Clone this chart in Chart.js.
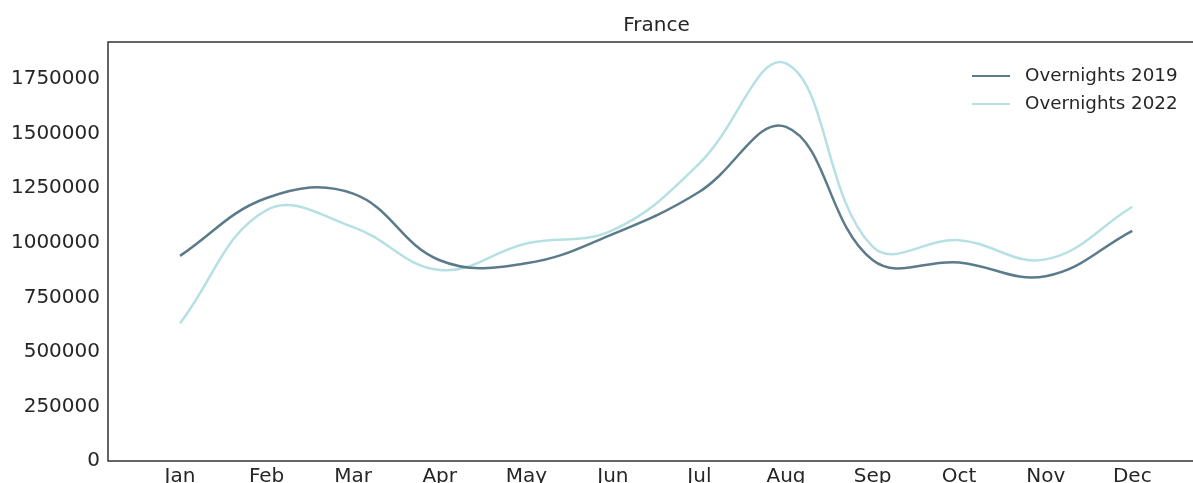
<!DOCTYPE html>
<html>
<head>
<meta charset="utf-8">
<script src="https://cdn.jsdelivr.net/npm/chart.js@4"></script>
<style>
  html, body { margin: 0; padding: 0; background: #fff; overflow: hidden; }
  #wrap { position: relative; width: 1205px; height: 500px; }
  .leg { position: absolute; left: 972px; font: 18.3px/22px "DejaVu Sans", sans-serif; color: #262626; }
  .leg span { display: inline-block; width: 38px; height: 0; border-top: 2.5px solid; vertical-align: middle; margin-right: 15px; }
</style>
</head>
<body>
<div id="wrap">
  <canvas id="c" width="1205" height="500"></canvas>
  <div class="leg" style="top:64px"><span style="border-color:#5b7b8b"></span>Overnights 2019</div>
  <div class="leg" style="top:92px"><span style="border-color:#b6e0e4"></span>Overnights 2022</div>
</div>
<script>
const title = 'France';
const months = ['Jan','Feb','Mar','Apr','May','Jun','Jul','Aug','Sep','Oct','Nov','Dec'];
const overnights2019 = [940000, 1205000, 1225000, 920000, 906000, 1040000, 1234000, 1531000, 921000, 910000, 847000, 1055000];
const overnights2022 = [631000, 1150000, 1072000, 875000, 997000, 1058000, 1364000, 1822000, 982000, 1012000, 924000, 1165000];
const yTicks = [0, 250000, 500000, 750000, 1000000, 1250000, 1500000, 1750000];

const font = { family: '"DejaVu Sans", sans-serif', size: 20 };

// frame round the plot + title centred over the plot area (matplotlib style)
const frame = {
  id: 'frame',
  afterDraw(chart) {
    const a = chart.chartArea, ctx = chart.ctx;
    ctx.save(); ctx.strokeStyle = '#333'; ctx.lineWidth = 1.5;
    ctx.strokeRect(a.left, a.top, a.right - a.left, a.bottom - a.top);
    ctx.fillStyle = '#262626'; ctx.font = '20px "DejaVu Sans", sans-serif';
    ctx.textAlign = 'center'; ctx.textBaseline = 'middle';
    ctx.fillText(title, (a.left + a.right) / 2, a.top - 16);
    ctx.restore();
  }
};

new Chart(document.getElementById('c'), {
  type: 'line',
  data: {
    datasets: [
      { label: 'Overnights 2019', data: overnights2019.map((v, i) => ({ x: i, y: v })), borderColor: '#5b7b8b', borderWidth: 2.5, pointRadius: 0, tension: 0.4 },
      { label: 'Overnights 2022', data: overnights2022.map((v, i) => ({ x: i, y: v })), borderColor: '#b6e0e4', borderWidth: 2.5, pointRadius: 0, tension: 0.4 }
    ]
  },
  options: {
    responsive: false, animation: false,
    layout: { padding: { top: 42 } },
    plugins: { legend: { display: false }, tooltip: { enabled: false }, title: { display: false } },
    scales: {
      x: {
        type: 'linear', min: -0.832, max: 11.84,
        grid: { display: false, drawTicks: false },
        border: { display: false },
        afterBuildTicks: ax => { ax.ticks = months.map((m, i) => ({ value: i })); },
        afterFit: ax => { ax.height = 39; },
        ticks: { font, color: '#262626', padding: 4, autoSkip: false, maxRotation: 0, callback: v => months[v] }
      },
      y: {
        min: 0, max: 1920000,
        grid: { display: false, drawTicks: false },
        border: { display: false },
        afterBuildTicks: ax => { ax.ticks = yTicks.map(v => ({ value: v })); },
        afterFit: ax => { ax.width = 108; },
        ticks: { font, color: '#262626', padding: 8, callback: v => String(v) }
      }
    }
  },
  plugins: [frame]
});
</script>
</body>
</html>
